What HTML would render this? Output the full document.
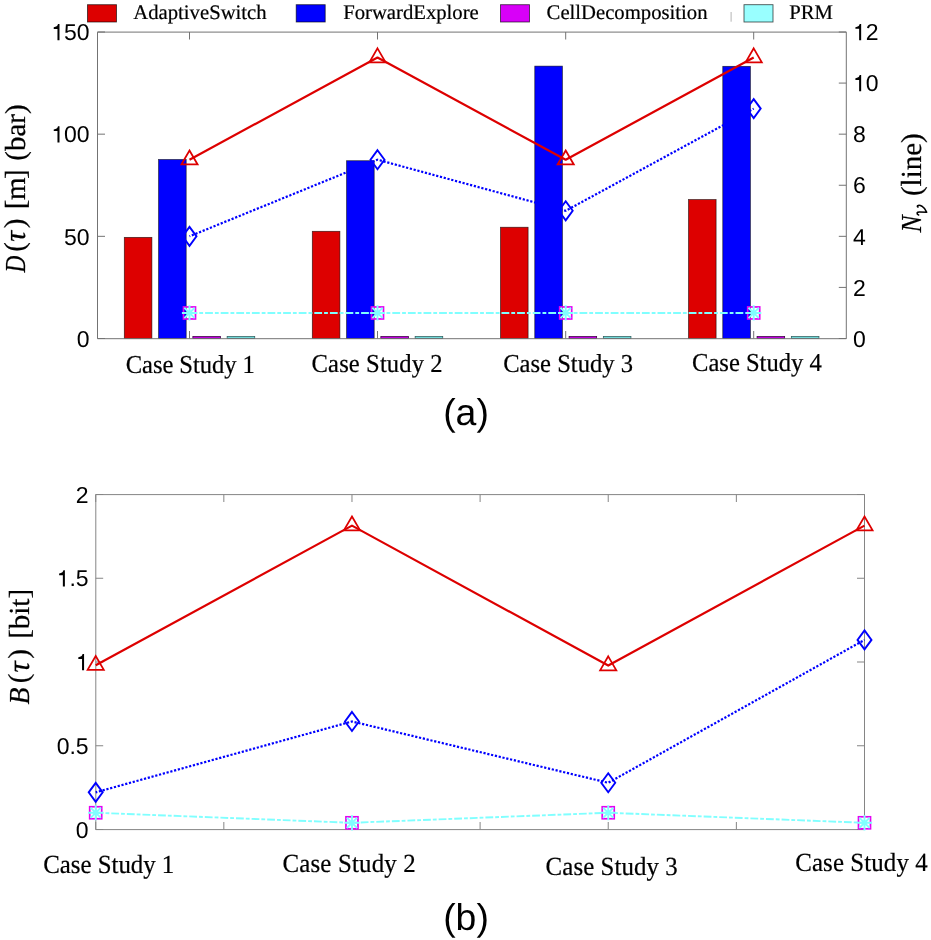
<!DOCTYPE html>
<html><head><meta charset="utf-8"><title>Chart</title><style>
html,body{margin:0;padding:0;background:#fff;width:931px;height:940px;overflow:hidden;}
svg{display:block;will-change:transform;}
text{text-rendering:geometricPrecision;}
.sans{font-family:"Liberation Sans", sans-serif;}
.serif{font-family:"Liberation Serif", serif;stroke:#000;stroke-width:0.22px;}
</style></head><body>
<svg width="931" height="940" viewBox="0 0 931 940">
<rect x="0" y="0" width="931" height="940" fill="#fff"/>
<rect x="87.5" y="4.7" width="29" height="17.3" fill="#dd0000" stroke="#000" stroke-opacity="0.68" stroke-width="0.9"/>
<text x="133.3" y="18.6" class="serif" font-size="20.7" fill="#000">AdaptiveSwitch</text>
<rect x="296.2" y="4.7" width="29" height="17.3" fill="#0000ff" stroke="#000" stroke-opacity="0.68" stroke-width="0.9"/>
<text x="343.2" y="18.6" class="serif" font-size="20.7" fill="#000">ForwardExplore</text>
<rect x="500.5" y="4.7" width="29" height="17.3" fill="#d800f8" stroke="#000" stroke-opacity="0.68" stroke-width="0.9"/>
<text x="546.6" y="18.6" class="serif" font-size="20.7" fill="#000">CellDecomposition</text>
<rect x="744" y="4.7" width="29" height="17.3" fill="#99ffff" stroke="#000" stroke-opacity="0.68" stroke-width="0.9"/>
<text x="789.2" y="18.6" class="serif" font-size="20.7" fill="#000">PRM</text>
<line x1="731.1" y1="12" x2="731.1" y2="21.7" stroke="#b4b4b4" stroke-width="1"/>
<rect x="124.3" y="237.36" width="27.6" height="101.14" fill="#dd0000" stroke="rgba(0,0,0,0.7)" stroke-width="0.75"/>
<rect x="158.58" y="159.5" width="27.6" height="179" fill="#0000ff" stroke="rgba(0,0,0,0.7)" stroke-width="0.75"/>
<rect x="192.86" y="336.46" width="27.6" height="2.04" fill="#c000e0" stroke="#3a0040" stroke-width="0.75"/>
<rect x="227.14" y="336.46" width="27.6" height="2.04" fill="#70d8d8" stroke="#2f5f5f" stroke-width="0.75"/>
<rect x="312.3" y="231.31" width="27.6" height="107.19" fill="#dd0000" stroke="rgba(0,0,0,0.7)" stroke-width="0.75"/>
<rect x="346.58" y="160.73" width="27.6" height="177.77" fill="#0000ff" stroke="rgba(0,0,0,0.7)" stroke-width="0.75"/>
<rect x="380.86" y="336.46" width="27.6" height="2.04" fill="#c000e0" stroke="#3a0040" stroke-width="0.75"/>
<rect x="415.14" y="336.46" width="27.6" height="2.04" fill="#70d8d8" stroke="#2f5f5f" stroke-width="0.75"/>
<rect x="500.5" y="227.24" width="27.6" height="111.26" fill="#dd0000" stroke="rgba(0,0,0,0.7)" stroke-width="0.75"/>
<rect x="534.78" y="66.12" width="27.6" height="272.38" fill="#0000ff" stroke="rgba(0,0,0,0.7)" stroke-width="0.75"/>
<rect x="569.06" y="336.46" width="27.6" height="2.04" fill="#c000e0" stroke="#3a0040" stroke-width="0.75"/>
<rect x="603.34" y="336.46" width="27.6" height="2.04" fill="#70d8d8" stroke="#2f5f5f" stroke-width="0.75"/>
<rect x="688.5" y="199.55" width="27.6" height="138.95" fill="#dd0000" stroke="rgba(0,0,0,0.7)" stroke-width="0.75"/>
<rect x="722.78" y="66.33" width="27.6" height="272.17" fill="#0000ff" stroke="rgba(0,0,0,0.7)" stroke-width="0.75"/>
<rect x="757.06" y="336.46" width="27.6" height="2.04" fill="#c000e0" stroke="#3a0040" stroke-width="0.75"/>
<rect x="791.34" y="336.46" width="27.6" height="2.04" fill="#70d8d8" stroke="#2f5f5f" stroke-width="0.75"/>
<path d="M97.5 32.1 H846.3 V338.7 H97.5 Z" fill="none" stroke="#737373" stroke-width="1"/>
<line x1="189.5" y1="32" x2="189.5" y2="39.5" stroke="#737373" stroke-width="1"/>
<line x1="189.5" y1="338.5" x2="189.5" y2="331" stroke="#737373" stroke-width="1"/>
<line x1="377.5" y1="32" x2="377.5" y2="39.5" stroke="#737373" stroke-width="1"/>
<line x1="377.5" y1="338.5" x2="377.5" y2="331" stroke="#737373" stroke-width="1"/>
<line x1="565.7" y1="32" x2="565.7" y2="39.5" stroke="#737373" stroke-width="1"/>
<line x1="565.7" y1="338.5" x2="565.7" y2="331" stroke="#737373" stroke-width="1"/>
<line x1="753.7" y1="32" x2="753.7" y2="39.5" stroke="#737373" stroke-width="1"/>
<line x1="753.7" y1="338.5" x2="753.7" y2="331" stroke="#737373" stroke-width="1"/>
<line x1="97.5" y1="338.5" x2="105" y2="338.5" stroke="#737373" stroke-width="1"/>
<text transform="translate(76.81 346.74) scale(1 1)" class="sans" font-size="23" fill="#000">0</text>
<line x1="97.5" y1="236.33" x2="105" y2="236.33" stroke="#737373" stroke-width="1"/>
<text transform="translate(64.02 244.58) scale(1 1)" class="sans" font-size="23" fill="#000">5</text>
<text transform="translate(76.81 244.58) scale(1 1)" class="sans" font-size="23" fill="#000">0</text>
<line x1="97.5" y1="134.17" x2="105" y2="134.17" stroke="#737373" stroke-width="1"/>
<path transform="translate(51.23 142.41) scale(0.02300 -0.02300)" d="M271 0L359 0L359 703L294 703C283 640 240 590 150 572L109 566L109 493L271 493Z" fill="#000"/>
<text transform="translate(64.02 142.41) scale(1 1)" class="sans" font-size="23" fill="#000">0</text>
<text transform="translate(76.81 142.41) scale(1 1)" class="sans" font-size="23" fill="#000">0</text>
<line x1="97.5" y1="32" x2="105" y2="32" stroke="#737373" stroke-width="1"/>
<path transform="translate(51.23 40.24) scale(0.02300 -0.02300)" d="M271 0L359 0L359 703L294 703C283 640 240 590 150 572L109 566L109 493L271 493Z" fill="#000"/>
<text transform="translate(64.02 40.24) scale(1 1)" class="sans" font-size="23" fill="#000">5</text>
<text transform="translate(76.81 40.24) scale(1 1)" class="sans" font-size="23" fill="#000">0</text>
<line x1="846.3" y1="338.5" x2="838.8" y2="338.5" stroke="#737373" stroke-width="1"/>
<text transform="translate(852.9 346.69) scale(1 1)" class="sans" font-size="23" fill="#000">0</text>
<line x1="846.3" y1="287.42" x2="838.8" y2="287.42" stroke="#737373" stroke-width="1"/>
<text transform="translate(852.9 295.61) scale(1 1)" class="sans" font-size="23" fill="#000">2</text>
<line x1="846.3" y1="236.33" x2="838.8" y2="236.33" stroke="#737373" stroke-width="1"/>
<text transform="translate(852.9 244.53) scale(1 1)" class="sans" font-size="23" fill="#000">4</text>
<line x1="846.3" y1="185.25" x2="838.8" y2="185.25" stroke="#737373" stroke-width="1"/>
<text transform="translate(852.9 193.44) scale(1 1)" class="sans" font-size="23" fill="#000">6</text>
<line x1="846.3" y1="134.17" x2="838.8" y2="134.17" stroke="#737373" stroke-width="1"/>
<text transform="translate(852.9 142.36) scale(1 1)" class="sans" font-size="23" fill="#000">8</text>
<line x1="846.3" y1="83.08" x2="838.8" y2="83.08" stroke="#737373" stroke-width="1"/>
<path transform="translate(852.9 91.28) scale(0.02300 -0.02300)" d="M271 0L359 0L359 703L294 703C283 640 240 590 150 572L109 566L109 493L271 493Z" fill="#000"/>
<text transform="translate(865.69 91.28) scale(1 1)" class="sans" font-size="23" fill="#000">0</text>
<line x1="846.3" y1="32" x2="838.8" y2="32" stroke="#737373" stroke-width="1"/>
<path transform="translate(852.9 40.19) scale(0.02300 -0.02300)" d="M271 0L359 0L359 703L294 703C283 640 240 590 150 572L109 566L109 493L271 493Z" fill="#000"/>
<text transform="translate(865.69 40.19) scale(1 1)" class="sans" font-size="23" fill="#000">2</text>
<polyline points="189.5,312.96 377.5,312.96 565.7,312.96 753.7,312.96" fill="none" stroke="#80ffff" stroke-width="1.9" stroke-linejoin="round" stroke-linecap="butt" stroke-dasharray="7.8 2 3.8 2"/>
<polyline points="189.5,236.33 377.5,159.71 565.7,210.79 753.7,108.62" fill="none" stroke="#0000ff" stroke-width="2.2" stroke-linejoin="round" stroke-linecap="butt" stroke-dasharray="2.2 1.7" stroke-dashoffset="1.4"/>
<polyline points="189.5,159.71 377.5,57.54 565.7,159.71 753.7,57.54" fill="none" stroke="#dd0000" stroke-width="2.2" stroke-linejoin="round" stroke-linecap="butt"/>
<rect x="183.5" y="306.96" width="12" height="12" fill="none" stroke="#e600f2" stroke-width="1.7"/>
<path d="M189.5 305.36 V320.56 M181.9 312.96 H197.1 M184.3 307.76 L194.7 318.16 M184.3 318.16 L194.7 307.76" stroke="#80ffff" stroke-width="1.9" fill="none"/>
<path d="M189.5 226.83 L196.5 236.33 L189.5 245.83 L182.5 236.33 Z" fill="none" stroke="#0000ff" stroke-width="1.9" stroke-linejoin="miter"/>
<path d="M189.5 150.51 L197.6 164.46 L181.4 164.46 Z" fill="none" stroke="#dd0000" stroke-width="1.75" stroke-linejoin="miter"/>
<rect x="371.5" y="306.96" width="12" height="12" fill="none" stroke="#e600f2" stroke-width="1.7"/>
<path d="M377.5 305.36 V320.56 M369.9 312.96 H385.1 M372.3 307.76 L382.7 318.16 M372.3 318.16 L382.7 307.76" stroke="#80ffff" stroke-width="1.9" fill="none"/>
<path d="M377.5 150.21 L384.5 159.71 L377.5 169.21 L370.5 159.71 Z" fill="none" stroke="#0000ff" stroke-width="1.9" stroke-linejoin="miter"/>
<path d="M377.5 48.34 L385.6 62.29 L369.4 62.29 Z" fill="none" stroke="#dd0000" stroke-width="1.75" stroke-linejoin="miter"/>
<rect x="559.7" y="306.96" width="12" height="12" fill="none" stroke="#e600f2" stroke-width="1.7"/>
<path d="M565.7 305.36 V320.56 M558.1 312.96 H573.3 M560.5 307.76 L570.9 318.16 M560.5 318.16 L570.9 307.76" stroke="#80ffff" stroke-width="1.9" fill="none"/>
<path d="M565.7 201.29 L572.7 210.79 L565.7 220.29 L558.7 210.79 Z" fill="none" stroke="#0000ff" stroke-width="1.9" stroke-linejoin="miter"/>
<path d="M565.7 150.51 L573.8 164.46 L557.6 164.46 Z" fill="none" stroke="#dd0000" stroke-width="1.75" stroke-linejoin="miter"/>
<rect x="747.7" y="306.96" width="12" height="12" fill="none" stroke="#e600f2" stroke-width="1.7"/>
<path d="M753.7 305.36 V320.56 M746.1 312.96 H761.3 M748.5 307.76 L758.9 318.16 M748.5 318.16 L758.9 307.76" stroke="#80ffff" stroke-width="1.9" fill="none"/>
<path d="M753.7 99.12 L760.7 108.62 L753.7 118.12 L746.7 108.62 Z" fill="none" stroke="#0000ff" stroke-width="1.9" stroke-linejoin="miter"/>
<path d="M753.7 48.34 L761.8 62.29 L745.6 62.29 Z" fill="none" stroke="#dd0000" stroke-width="1.75" stroke-linejoin="miter"/>
<text transform="translate(125.79 373.1) scale(0.9524 1)" class="serif" font-size="25.83" letter-spacing="-0.081" fill="#000">Case Study 1</text>
<text transform="translate(311.59 372.1) scale(0.9524 1)" class="serif" font-size="25.83" letter-spacing="0.118" fill="#000">Case Study 2</text>
<text transform="translate(503.19 371.6) scale(0.9524 1)" class="serif" font-size="25.83" fill="#000">Case Study 3</text>
<text transform="translate(692.09 371.3) scale(0.9524 1)" class="serif" font-size="25.83" letter-spacing="-0.023" fill="#000">Case Study 4</text>
<text transform="translate(25.1 272.44) rotate(-90) scale(0.8 1)" class="serif" font-size="29" font-style="italic" fill="#000">D</text>
<text transform="translate(23.5 251.87) rotate(-90)" class="serif" font-size="29" fill="#000">(</text>
<text transform="translate(25.1 241.87) rotate(-90)" class="serif" font-size="30.5" font-style="italic" fill="#000">τ</text>
<text transform="translate(23.5 228.13) rotate(-90)" class="serif" font-size="29" fill="#000">)</text>
<text transform="translate(25.1 209.35) rotate(-90)" class="serif" font-size="29" fill="#000">[</text>
<text transform="translate(25.1 199.91) rotate(-90)" class="serif" font-size="29" fill="#000">m</text>
<text transform="translate(25.1 178.95) rotate(-90)" class="serif" font-size="29" fill="#000">]</text>
<text transform="translate(25.1 160.77) rotate(-90)" class="serif" font-size="29" fill="#000">(bar)</text>
<text transform="translate(921 232.61) rotate(-90) scale(0.89 1)" class="serif" font-size="29" font-style="italic" fill="#000">N</text>
<text transform="translate(921 196.07) rotate(-90)" class="serif" font-size="29" fill="#000">(line)</text>
<path transform="matrix(0 -1 1 0 916.7 215.6)" d="M0.6 1.9 Q1.2 0.1 2.7 0.4 Q3.6 0.8 3.5 3.0 L3.3 10.0 Q7.2 8.6 9.4 5.2 Q10.8 2.6 10.0 1.0 Q9.3 0.2 8.6 1.3" fill="none" stroke="#000" stroke-width="1.55" stroke-linecap="round" stroke-linejoin="round"/>
<text x="466" y="425.3" class="sans" font-size="37.4" text-anchor="middle" fill="#000">(a)</text>
<path d="M95.8 494.6 H864.5 V829.6 H95.8 Z" fill="none" stroke="#858585" stroke-width="1"/>
<line x1="95.7" y1="494.5" x2="95.7" y2="502" stroke="#858585" stroke-width="1"/>
<line x1="95.7" y1="829.5" x2="95.7" y2="822" stroke="#858585" stroke-width="1"/>
<line x1="223.83" y1="494.5" x2="223.83" y2="502" stroke="#858585" stroke-width="1"/>
<line x1="223.83" y1="829.5" x2="223.83" y2="822" stroke="#858585" stroke-width="1"/>
<line x1="351.97" y1="494.5" x2="351.97" y2="502" stroke="#858585" stroke-width="1"/>
<line x1="351.97" y1="829.5" x2="351.97" y2="822" stroke="#858585" stroke-width="1"/>
<line x1="480.1" y1="494.5" x2="480.1" y2="502" stroke="#858585" stroke-width="1"/>
<line x1="480.1" y1="829.5" x2="480.1" y2="822" stroke="#858585" stroke-width="1"/>
<line x1="608.23" y1="494.5" x2="608.23" y2="502" stroke="#858585" stroke-width="1"/>
<line x1="608.23" y1="829.5" x2="608.23" y2="822" stroke="#858585" stroke-width="1"/>
<line x1="736.37" y1="494.5" x2="736.37" y2="502" stroke="#858585" stroke-width="1"/>
<line x1="736.37" y1="829.5" x2="736.37" y2="822" stroke="#858585" stroke-width="1"/>
<line x1="864.5" y1="494.5" x2="864.5" y2="502" stroke="#858585" stroke-width="1"/>
<line x1="864.5" y1="829.5" x2="864.5" y2="822" stroke="#858585" stroke-width="1"/>
<line x1="95.7" y1="829.5" x2="103.2" y2="829.5" stroke="#858585" stroke-width="1"/>
<line x1="864.5" y1="829.5" x2="857" y2="829.5" stroke="#858585" stroke-width="1"/>
<text transform="translate(75.81 837.74) scale(1 1)" class="sans" font-size="23" fill="#000">0</text>
<line x1="95.7" y1="745.75" x2="103.2" y2="745.75" stroke="#858585" stroke-width="1"/>
<line x1="864.5" y1="745.75" x2="857" y2="745.75" stroke="#858585" stroke-width="1"/>
<text transform="translate(56.63 753.99) scale(1 1)" class="sans" font-size="23" fill="#000">0</text>
<text transform="translate(69.42 753.99) scale(1 1)" class="sans" font-size="23" fill="#000">.</text>
<text transform="translate(75.81 753.99) scale(1 1)" class="sans" font-size="23" fill="#000">5</text>
<line x1="95.7" y1="662" x2="103.2" y2="662" stroke="#858585" stroke-width="1"/>
<line x1="864.5" y1="662" x2="857" y2="662" stroke="#858585" stroke-width="1"/>
<path transform="translate(75.81 670.24) scale(0.02300 -0.02300)" d="M271 0L359 0L359 703L294 703C283 640 240 590 150 572L109 566L109 493L271 493Z" fill="#000"/>
<line x1="95.7" y1="578.25" x2="103.2" y2="578.25" stroke="#858585" stroke-width="1"/>
<line x1="864.5" y1="578.25" x2="857" y2="578.25" stroke="#858585" stroke-width="1"/>
<path transform="translate(56.63 586.49) scale(0.02300 -0.02300)" d="M271 0L359 0L359 703L294 703C283 640 240 590 150 572L109 566L109 493L271 493Z" fill="#000"/>
<text transform="translate(69.42 586.49) scale(1 1)" class="sans" font-size="23" fill="#000">.</text>
<text transform="translate(75.81 586.49) scale(1 1)" class="sans" font-size="23" fill="#000">5</text>
<line x1="95.7" y1="494.5" x2="103.2" y2="494.5" stroke="#858585" stroke-width="1"/>
<line x1="864.5" y1="494.5" x2="857" y2="494.5" stroke="#858585" stroke-width="1"/>
<text transform="translate(75.81 502.74) scale(1 1)" class="sans" font-size="23" fill="#000">2</text>
<polyline points="95.7,812.75 351.97,822.8 608.23,812.75 864.5,822.8" fill="none" stroke="#80ffff" stroke-width="1.9" stroke-linejoin="round" stroke-linecap="butt" stroke-dasharray="7.8 2 3.8 2"/>
<polyline points="95.7,792.32 351.97,721.46 608.23,782.77 864.5,639.89" fill="none" stroke="#0000ff" stroke-width="2.2" stroke-linejoin="round" stroke-linecap="butt" stroke-dasharray="2.2 1.7" stroke-dashoffset="0.6"/>
<polyline points="95.7,665.18 351.97,525.65 608.23,665.52 864.5,525.65" fill="none" stroke="#dd0000" stroke-width="2.2" stroke-linejoin="round" stroke-linecap="butt"/>
<rect x="89.7" y="806.75" width="12" height="12" fill="none" stroke="#e600f2" stroke-width="1.7"/>
<path d="M95.7 805.15 V820.35 M88.1 812.75 H103.3 M90.5 807.55 L100.9 817.95 M90.5 817.95 L100.9 807.55" stroke="#80ffff" stroke-width="1.9" fill="none"/>
<path d="M95.7 782.82 L102.7 792.32 L95.7 801.82 L88.7 792.32 Z" fill="none" stroke="#0000ff" stroke-width="1.9" stroke-linejoin="miter"/>
<path d="M95.7 655.98 L103.8 669.93 L87.6 669.93 Z" fill="none" stroke="#dd0000" stroke-width="1.75" stroke-linejoin="miter"/>
<rect x="345.97" y="816.8" width="12" height="12" fill="none" stroke="#e600f2" stroke-width="1.7"/>
<path d="M351.97 815.2 V830.4 M344.37 822.8 H359.57 M346.77 817.6 L357.17 828 M346.77 828 L357.17 817.6" stroke="#80ffff" stroke-width="1.9" fill="none"/>
<path d="M351.97 711.96 L358.97 721.46 L351.97 730.96 L344.97 721.46 Z" fill="none" stroke="#0000ff" stroke-width="1.9" stroke-linejoin="miter"/>
<path d="M351.97 516.45 L360.07 530.4 L343.87 530.4 Z" fill="none" stroke="#dd0000" stroke-width="1.75" stroke-linejoin="miter"/>
<rect x="602.23" y="806.75" width="12" height="12" fill="none" stroke="#e600f2" stroke-width="1.7"/>
<path d="M608.23 805.15 V820.35 M600.63 812.75 H615.83 M603.03 807.55 L613.43 817.95 M603.03 817.95 L613.43 807.55" stroke="#80ffff" stroke-width="1.9" fill="none"/>
<path d="M608.23 773.27 L615.23 782.77 L608.23 792.27 L601.23 782.77 Z" fill="none" stroke="#0000ff" stroke-width="1.9" stroke-linejoin="miter"/>
<path d="M608.23 656.32 L616.33 670.27 L600.13 670.27 Z" fill="none" stroke="#dd0000" stroke-width="1.75" stroke-linejoin="miter"/>
<rect x="858.5" y="816.8" width="12" height="12" fill="none" stroke="#e600f2" stroke-width="1.7"/>
<path d="M864.5 815.2 V830.4 M856.9 822.8 H872.1 M859.3 817.6 L869.7 828 M859.3 828 L869.7 817.6" stroke="#80ffff" stroke-width="1.9" fill="none"/>
<path d="M864.5 630.39 L871.5 639.89 L864.5 649.39 L857.5 639.89 Z" fill="none" stroke="#0000ff" stroke-width="1.9" stroke-linejoin="miter"/>
<path d="M864.5 516.45 L872.6 530.4 L856.4 530.4 Z" fill="none" stroke="#dd0000" stroke-width="1.75" stroke-linejoin="miter"/>
<text transform="translate(43.18 873.2) scale(0.9524 1)" class="serif" font-size="26.14" letter-spacing="-0.019" fill="#000">Case Study 1</text>
<text transform="translate(282.38 872.1) scale(0.9524 1)" class="serif" font-size="26.14" letter-spacing="0.198" fill="#000">Case Study 2</text>
<text transform="translate(545.58 874.8) scale(0.9524 1)" class="serif" font-size="26.14" letter-spacing="0.084" fill="#000">Case Study 3</text>
<text transform="translate(795.28 871.4) scale(0.9524 1)" class="serif" font-size="26.14" letter-spacing="0.104" fill="#000">Case Study 4</text>
<text transform="translate(28.9 704.56) rotate(-90) scale(0.96 1)" class="serif" font-size="29" font-style="italic" fill="#000">B</text>
<text transform="translate(28.4 683.27) rotate(-90)" class="serif" font-size="29" fill="#000">(</text>
<text transform="translate(28.9 672.58) rotate(-90)" class="serif" font-size="31" font-style="italic" fill="#000">τ</text>
<text transform="translate(28.4 658.73) rotate(-90)" class="serif" font-size="29" fill="#000">)</text>
<text transform="translate(28.9 638.85) rotate(-90)" class="serif" font-size="29" fill="#000">[bit]</text>
<text x="466" y="929.7" class="sans" font-size="37.4" text-anchor="middle" fill="#000">(b)</text>
</svg></body></html>
